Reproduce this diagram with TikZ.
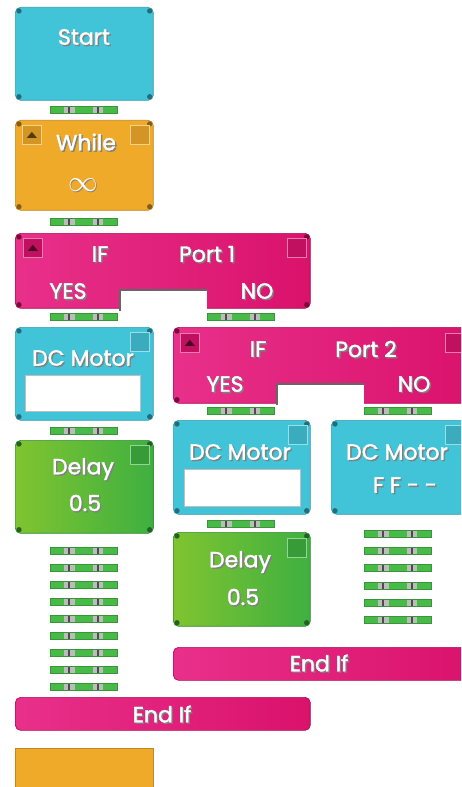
\documentclass[tikz,border=0pt]{standalone}
\usepackage{fontspec}
\setmainfont{Poppins}
\newfontfamily\blkfont{Poppins}[FakeBold=1.6]
\usetikzlibrary{positioning, calc}
\definecolor{cyanblk}{RGB}{66,196,216}
\definecolor{orangeblk}{RGB}{240,170,42}
\definecolor{pinkA}{RGB}{232,48,138}
\definecolor{pinkB}{RGB}{218,18,108}
\definecolor{greenA}{RGB}{128,196,48}
\definecolor{greenB}{RGB}{62,176,64}
\definecolor{linkgreen}{RGB}{72,186,72}
\definecolor{linkgrey}{RGB}{188,188,188}
\tikzset{
    block/.style={rectangle, rounded corners=3pt, anchor=north west, inner sep=0pt, draw=#1},
    blktext/.style={text=white, font=\blkfont\fontsize{12.5}{14}\selectfont, inner sep=0pt},
    blkshadow/.style={blktext, text=black!50, xshift=0.8pt, yshift=-0.8pt},
    btn/.style={rectangle, draw=#1!55!white, fill=#1!88!black, minimum size=0.38cm, inner sep=0pt, anchor=north west},
    screw/.style={circle, fill=#1!55!black, minimum size=3pt, inner sep=0pt},
    notch/.style={rectangle, fill=white, anchor=north west, inner sep=0pt},
    blank/.style={rectangle, fill=white, draw=black!25, anchor=north west, inner sep=0pt},
    link/.pic={
        \fill[linkgreen!80!black] (0,0) rectangle (68,8);
        \fill[linkgreen] (1,1) rectangle (67,7);
        \fill[linkgrey] (14,1) rectangle (25,7);
        \fill[linkgrey] (43,1) rectangle (53,7);
        \fill[black!70] (18,1) rectangle (20,7);
        \fill[black!70] (47,1) rectangle (49,7);
    },
}
% white text with a grey drop shadow
\newcommand{\blocklabel}[3]{%
    \node[blkshadow] (#2s) at (#1) {#3};
    \node[blktext] (#2) at (#1) {#3};}
% corner screws of a block
\newcommand{\screws}[2]{%
    \foreach \a/\dx/\dy [count=\i] in {north west/4/4, north east/-4/4, south west/4/-4, south east/-4/-4}
        \node[screw=#2] (#1-s\i) at ([shift={(\dx,\dy)}]#1.\a) {};}
% fold button with an up triangle
\newcommand{\upbtn}[3]{%
    \node[btn=#3] (#1) at (#2) {};
    \fill[#3!35!black] ($(#1.center)+(-5,3)$) -- ++(10,0) -- ++(-5,-6) -- cycle;}

\begin{document}
\begin{tikzpicture}[x=0.02cm, y=-0.02cm]
    \useasboundingbox (0,0) rectangle (461,787);
    \clip (0,0) rectangle (461,787);
    \fill[white] (0,0) rectangle (461,787);

    % main column
    \node[block=cyanblk!80!black, fill=cyanblk, minimum width=2.76cm, minimum height=1.86cm] (start) at (15,7) {};
    \screws{start}{cyanblk}
    \blocklabel{84,37}{starttxt}{Start}
    \pic at (50,106) {link};

    \node[block=orangeblk!80!black, fill=orangeblk, minimum width=2.76cm, minimum height=1.80cm] (while) at (15,120) {};
    \screws{while}{orangeblk}
    \upbtn{whileup}{22,125}{orangeblk}
    \node[btn=orangeblk] (whilebox) at (130,125) {};
    \blocklabel{86,142}{whiletxt}{While}
    \blocklabel{83,185}{whileinf}{\scalebox{1.4}{$\infty$}}
    \pic at (50,218) {link};

    \node[block=pinkB!80!black, left color=pinkA, right color=pinkB, minimum width=5.90cm, minimum height=1.50cm] (ifone) at (15,233) {};
    \screws{ifone}{pinkB}
    \node[notch, minimum width=1.74cm, minimum height=0.40cm] (ifonegap) at (120,290) {};
    \draw[black!60, line width=0.8pt] (ifonegap.south west) |- (ifonegap.north east);
    \upbtn{ifoneup}{23,238}{pinkB}
    \node[btn=pinkB] (ifonebox) at (287,238) {};
    \blocklabel{100,254}{ifonetxt}{IF}
    \blocklabel{207,254}{ifoneport}{Port 1}
    \blocklabel{68,291}{ifoneyes}{YES}
    \blocklabel{257,291}{ifoneno}{NO}
    \pic at (50,313) {link};
    \pic at (207,313) {link};

    \node[block=cyanblk!80!black, fill=cyanblk, minimum width=2.76cm, minimum height=1.86cm] (dcone) at (15,327) {};
    \screws{dcone}{cyanblk}
    \node[btn=cyanblk] (dconebox) at (130,332) {};
    \blocklabel{83,358}{dconetxt}{DC Motor}
    \node[blank, minimum width=2.30cm, minimum height=0.72cm] (dconeval) at (25,375) {};
    \pic at (50,427) {link};

    \node[block=greenB!80!black, left color=greenA, right color=greenB, minimum width=2.76cm, minimum height=1.86cm] (delayone) at (15,440) {};
    \screws{delayone}{greenB}
    \node[btn=greenB] (delayonebox) at (130,445) {};
    \blocklabel{83,469}{delayonetxt}{Delay}
    \blocklabel{85,503}{delayoneval}{0.5}
    \foreach \k in {0,...,8} { \pic at (50,547+17*\k) {link}; }

    \node[block=pinkB!80!black, left color=pinkA, right color=pinkB, minimum width=5.90cm, minimum height=0.66cm] (endifone) at (15,697) {};
    \blocklabel{162,714}{endifonetxt}{End If}

    \node[block=orangeblk!80!black, fill=orangeblk, minimum width=2.76cm, minimum height=1.0cm, rounded corners=0pt] (whileend) at (15,748) {};

    % NO branch of Port 1
    \node[block=pinkB!80!black, left color=pinkA, right color=pinkB, minimum width=6.00cm, minimum height=1.52cm] (iftwo) at (173,327) {};
    \screws{iftwo}{pinkB}
    \node[notch, minimum width=1.74cm, minimum height=0.41cm] (iftwogap) at (277,384) {};
    \draw[black!60, line width=0.8pt] (iftwogap.south west) |- (iftwogap.north east);
    \upbtn{iftwoup}{180,333}{pinkB}
    \node[btn=pinkB] (iftwobox) at (445,333) {};
    \blocklabel{258,349}{iftwotxt}{IF}
    \blocklabel{366,349}{iftwoport}{Port 2}
    \blocklabel{225,384}{iftwoyes}{YES}
    \blocklabel{414,384}{iftwono}{NO}
    \pic at (207,407) {link};
    \pic at (364,407) {link};

    \node[block=cyanblk!80!black, fill=cyanblk, minimum width=2.74cm, minimum height=1.88cm] (dctwo) at (173,420) {};
    \screws{dctwo}{cyanblk}
    \node[btn=cyanblk] (dctwobox) at (288,425) {};
    \blocklabel{240,452}{dctwotxt}{DC Motor}
    \node[blank, minimum width=2.32cm, minimum height=0.74cm] (dctwoval) at (184,469) {};
    \pic at (207,520) {link};

    \node[block=cyanblk!80!black, fill=cyanblk, minimum width=2.80cm, minimum height=1.88cm] (dcthree) at (331,420) {};
    \screws{dcthree}{cyanblk}
    \node[btn=cyanblk] (dcthreebox) at (445,425) {};
    \blocklabel{397,452}{dcthreetxt}{DC Motor}
    \blocklabel{405,485}{dcthreeval}{F F - -}
    \foreach \k in {0,...,5} { \pic at (364,530+17.2*\k) {link}; }

    \node[block=greenB!80!black, left color=greenA, right color=greenB, minimum width=2.74cm, minimum height=1.88cm] (delaytwo) at (173,532) {};
    \screws{delaytwo}{greenB}
    \node[btn=greenB] (delaytwobox) at (287,538) {};
    \blocklabel{240,562}{delaytwotxt}{Delay}
    \blocklabel{243,597}{delaytwoval}{0.5}

    \node[block=pinkB!80!black, left color=pinkA, right color=pinkB, minimum width=6.00cm, minimum height=0.66cm] (endiftwo) at (173,647) {};
    \blocklabel{319,663}{endiftwotxt}{End If}
\end{tikzpicture}
\end{document}
